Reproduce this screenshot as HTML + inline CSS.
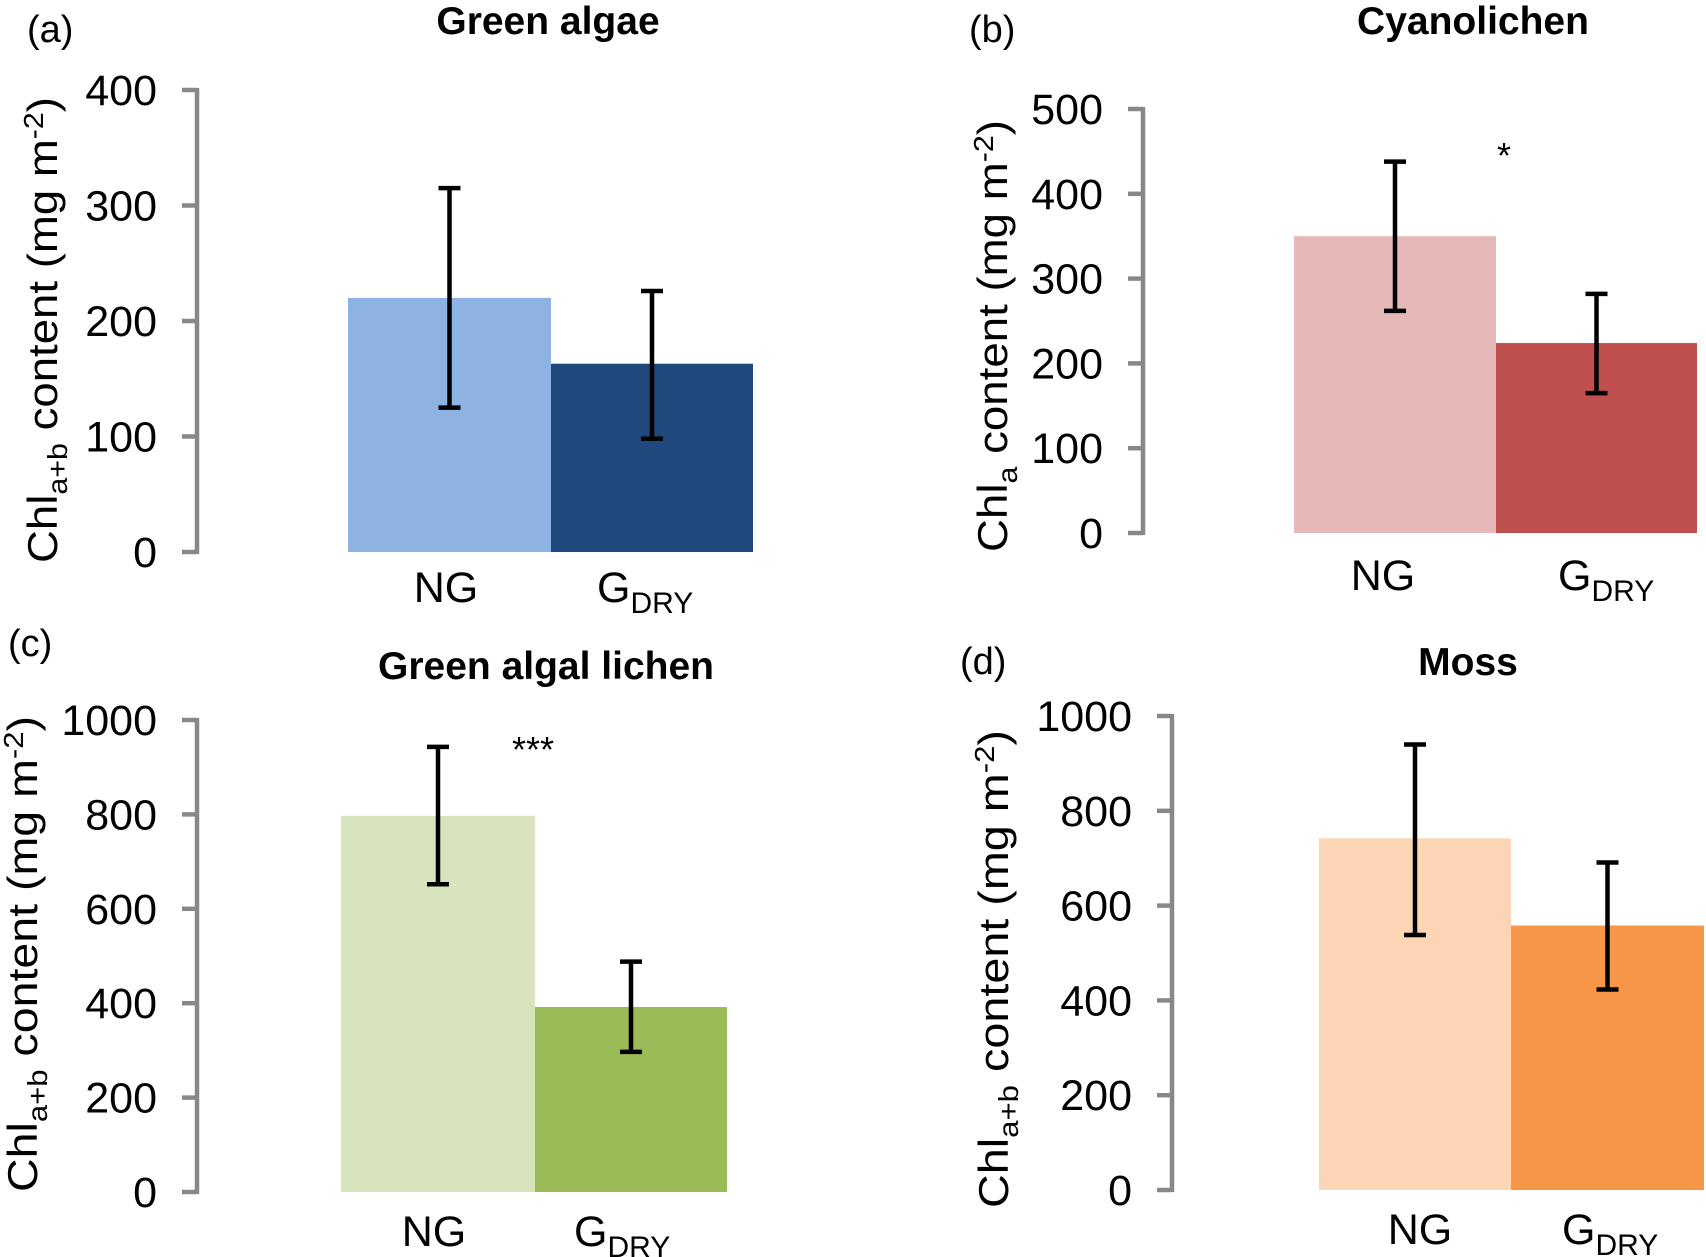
<!DOCTYPE html>
<html><head><meta charset="utf-8"><style>
html,body{margin:0;padding:0;background:#fff}
svg{display:block}
text{font-family:"Liberation Sans",Arial,sans-serif;fill:#000}
</style></head><body>
<svg id="chart" width="1706" height="1257" viewBox="0 0 1706 1257" xmlns="http://www.w3.org/2000/svg"></svg>
<script>
const categories = ["NG", "GDRY"];
const titles = ["Green algae", "Cyanolichen", "Green algal lichen", "Moss"];
const panelLetters = ["(a)", "(b)", "(c)", "(d)"];
const meansA = [220, 163];
const meansB = [350, 224];
const meansC = [797, 392];
const meansD = [742, 558];
const lowA = [125, 98];   const highA = [315, 226];
const lowB = [262, 165];  const highB = [438, 282];
const lowC = [652, 297];  const highC = [943, 488];
const lowD = [538, 423];  const highD = [940, 691];
const ticksA = [0, 100, 200, 300, 400];
const ticksB = [0, 100, 200, 300, 400, 500];
const ticksC = [0, 200, 400, 600, 800, 1000];
const ticksD = [0, 200, 400, 600, 800, 1000];
const sigB = "*";
const sigC = "***";

const NS = "http://www.w3.org/2000/svg";
const svg = document.getElementById("chart");
function mk(tag, attrs, parent) {
  const e = document.createElementNS(NS, tag);
  for (const k in attrs) e.setAttribute(k, attrs[k]);
  (parent || svg).appendChild(e);
  return e;
}

const panels = [
  {key:"a", means:meansA, low:lowA, high:highA, ticks:ticksA, axisX:197, y0:552, yTop:90, bx:[348,551,753], colors:["#8db3e2","#1f497d"],
   titleX:548, titleY:34, letterX:27, letterY:42, catY:602, ngX:446, gX:597, yt:{x:42, c:330, len:466, sub:"a+b"}, sig:null},
  {key:"b", means:meansB, low:lowB, high:highB, ticks:ticksB, axisX:1143, y0:533, yTop:109, bx:[1294,1496,1697], colors:["#e6b9b8","#c0504d"],
   titleX:1473, titleY:34, letterX:969, letterY:42, catY:590, ngX:1383, gX:1558, yt:{x:992, c:336, len:432, sub:"a"}, sig:{t:sigB, x:1504, y:168}},
  {key:"c", means:meansC, low:lowC, high:highC, ticks:ticksC, axisX:197, y0:1192, yTop:720, bx:[341,535,727], colors:["#d7e4bd","#9bbb59"],
   titleX:546, titleY:679, letterX:8, letterY:656, catY:1246, ngX:434, gX:574, yt:{x:22, c:954, len:476, sub:"a+b"}, sig:{t:sigC, x:533, y:762}},
  {key:"d", means:meansD, low:lowD, high:highD, ticks:ticksD, axisX:1172, y0:1190, yTop:716, bx:[1319,1511,1704], colors:["#fcd5b5","#f79646"],
   titleX:1468, titleY:675, letterX:960, letterY:674, catY:1244, ngX:1420, gX:1562, yt:{x:993, c:969, len:478, sub:"a+b"}, sig:null}
];

panels.forEach((p, i) => {
  const g = mk("g", {});
  
  
  const maxV = p.ticks[p.ticks.length - 1];
  const y = v => p.y0 - (v / maxV) * (p.y0 - p.yTop);

  const t = mk("text", {x:p.titleX, y:p.titleY, "text-anchor":"middle", "font-size":39, "font-weight":"bold"}, g);
  t.textContent = titles[i];
  
  

  const l = mk("text", {x:p.letterX, y:p.letterY, "font-size":38}, g);
  l.textContent = panelLetters[i];
  
  

  p.means.forEach((v, j) => {
    const r = mk("rect", {x:p.bx[j], y:y(v), width:p.bx[j+1]-p.bx[j], height:p.y0 - y(v), fill:p.colors[j]}, g);
    
    
  });
  p.means.forEach((v, j) => {
    const cx = (p.bx[j] + p.bx[j+1]) / 2;
    const eg = mk("g", {stroke:"#000", "stroke-width":4.5}, g);
    
    
    mk("line", {x1:cx, x2:cx, y1:y(p.low[j]), y2:y(p.high[j])}, eg);
    mk("line", {x1:cx-11, x2:cx+11, y1:y(p.low[j]), y2:y(p.low[j])}, eg);
    mk("line", {x1:cx-11, x2:cx+11, y1:y(p.high[j]), y2:y(p.high[j])}, eg);
  });

  const ax = mk("g", {stroke:"#888", "stroke-width":4.5}, g);
  
  
  mk("line", {x1:p.axisX, x2:p.axisX, y1:y(maxV)-2, y2:p.y0+2}, ax);
  p.ticks.forEach(tv => {
    mk("line", {x1:p.axisX-15, x2:p.axisX, y1:y(tv), y2:y(tv)}, ax);
    const tl = mk("text", {x:p.axisX-40, y:y(tv)+15, "text-anchor":"end", "font-size":43}, g);
    tl.textContent = tv;
    
    
  });

  const ng = mk("text", {x:p.ngX, y:p.catY, "text-anchor":"middle", "font-size":43}, g);
  ng.textContent = "NG";
  
  
  const gd = mk("text", {x:p.gX, y:p.catY, "font-size":43}, g);
  
  
  const s1 = mk("tspan", {}, gd); s1.textContent = "G";
  const s2 = mk("tspan", {dy:11, "font-size":30}, gd); s2.textContent = "DRY";

  const yt = mk("text", {transform:`translate(${p.yt.x+15},${p.yt.c}) rotate(-90)`, "text-anchor":"middle", "font-size":42, textLength:p.yt.len, lengthAdjust:"spacingAndGlyphs"}, g);
  
  
  const a1 = mk("tspan", {}, yt); a1.textContent = "Chl";
  const a2 = mk("tspan", {dy:10, "font-size":28}, yt); a2.textContent = p.yt.sub;
  const a3 = mk("tspan", {dy:-10}, yt); a3.textContent = " content (mg m";
  const a4 = mk("tspan", {dy:-14, "font-size":28}, yt); a4.textContent = "-2";
  const a5 = mk("tspan", {dy:14}, yt); a5.textContent = ")";

  if (p.sig) {
    const s = mk("text", {x:p.sig.x, y:p.sig.y, "text-anchor":"middle", "font-size":36}, g);
    s.textContent = p.sig.t;
    
    
  }
});
</script>
</body></html>
